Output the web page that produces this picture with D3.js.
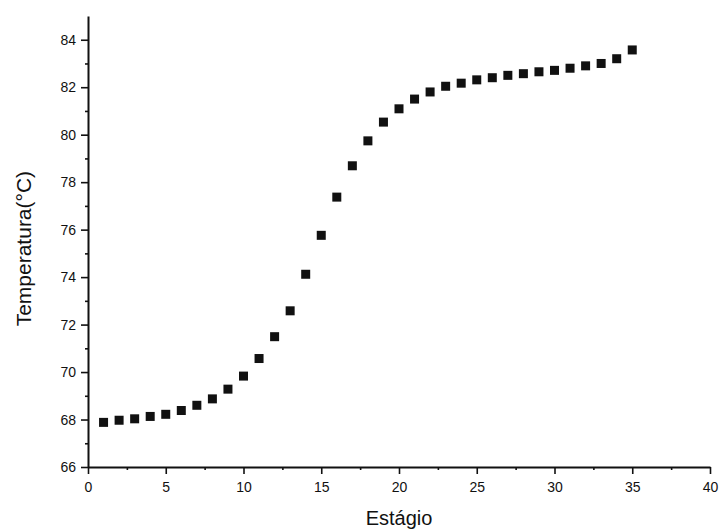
<!DOCTYPE html>
<html>
<head>
<meta charset="utf-8">
<script src="https://d3js.org/d3.v7.min.js"></script>
<style>
	body { margin: 0; background: #fff; }
	svg { display: block; }
	text { font-family: Arial, 'Liberation Sans', sans-serif; fill: #111; }
</style>
</head>
<body>
<script>
'use strict';

// data
var stages = [1, 2, 3, 4, 5, 6, 7, 8, 9, 10, 11, 12, 13, 14, 15, 16, 17, 18,
	19, 20, 21, 22, 23, 24, 25, 26, 27, 28, 29, 30, 31, 32, 33, 34, 35];
var temperatures = [67.88, 67.97, 68.03, 68.13, 68.22, 68.38, 68.6, 68.87,
	69.28, 69.83, 70.57, 71.49, 72.58, 74.12, 75.76, 77.37, 78.69, 79.74,
	80.53, 81.09, 81.5, 81.8, 82.04, 82.17, 82.31, 82.4, 82.5, 82.57, 82.65,
	82.71, 82.8, 82.9, 83.0, 83.2, 83.57];
var xTicks = [0, 5, 10, 15, 20, 25, 30, 35, 40];
var yTicks = [66, 68, 70, 72, 74, 76, 78, 80, 82, 84];
var xLabel = 'Estágio';
var yLabel = 'Temperatura(°C)';

var W = 719, H = 532,
	margin = {top: 16, right: 9, bottom: 65, left: 88},
	width = W - margin.left - margin.right,
	height = H - margin.top - margin.bottom;

var x = d3.scaleLinear().domain([0, 40]).range([0, width]),
	y = d3.scaleLinear().domain([66, 85]).range([height, 0]);

var svg = d3.select('body').append('svg')
	.attr('width', W)
	.attr('height', H);

var g = svg.append('g')
	.attr('transform', 'translate(' + margin.left + ',' + margin.top + ')');

// minor ticks first, then major axis on top
g.append('g')
	.attr('transform', 'translate(0,' + height + ')')
	.call(d3.axisBottom(x).tickValues(d3.range(2.5, 40, 5)).tickSize(3).tickFormat(''))
	.call(function(a) { a.select('.domain').remove(); });

g.append('g')
	.call(d3.axisLeft(y).tickValues(d3.range(67, 85, 2)).tickSize(3).tickFormat(''))
	.call(function(a) { a.select('.domain').remove(); });

var xAxis = g.append('g')
	.attr('transform', 'translate(0,' + height + ')')
	.call(d3.axisBottom(x).tickValues(xTicks).tickSize(7).tickSizeOuter(0).tickPadding(8));

var yAxis = g.append('g')
	.call(d3.axisLeft(y).tickValues(yTicks).tickSize(7).tickSizeOuter(0).tickPadding(5));

[xAxis, yAxis].forEach(function(a) {
	a.select('.domain').attr('stroke', '#111').attr('stroke-width', 2);
	a.selectAll('.tick text')
		.style('font-size', '14px')
		.style('font-family', 'Arial, "Liberation Sans", sans-serif')
		.attr('fill', '#111');
});
g.selectAll('.tick line').attr('stroke', '#111').attr('stroke-width', 1.6);

// axis titles
g.append('text')
	.attr('x', x(20))
	.attr('y', height + 58)
	.attr('text-anchor', 'middle')
	.style('font-size', '20px')
	.text(xLabel);

g.append('text')
	.attr('transform', 'translate(' + (-57) + ',' + (y(75.2)) + ') rotate(-90)')
	.attr('text-anchor', 'middle')
	.style('font-size', '21px')
	.text(yLabel);

// square markers
var points = stages.map(function(s, i) { return {x: s, y: temperatures[i]}; });
var size = 9;

g.selectAll('.point')
	.data(points).enter()
	.append('rect')
		.attr('class', 'point')
		.attr('x', function(d) { return x(d.x) - size / 2; })
		.attr('y', function(d) { return y(d.y) - size / 2; })
		.attr('width', size)
		.attr('height', size)
		.attr('fill', '#111');
</script>
</body>
</html>
